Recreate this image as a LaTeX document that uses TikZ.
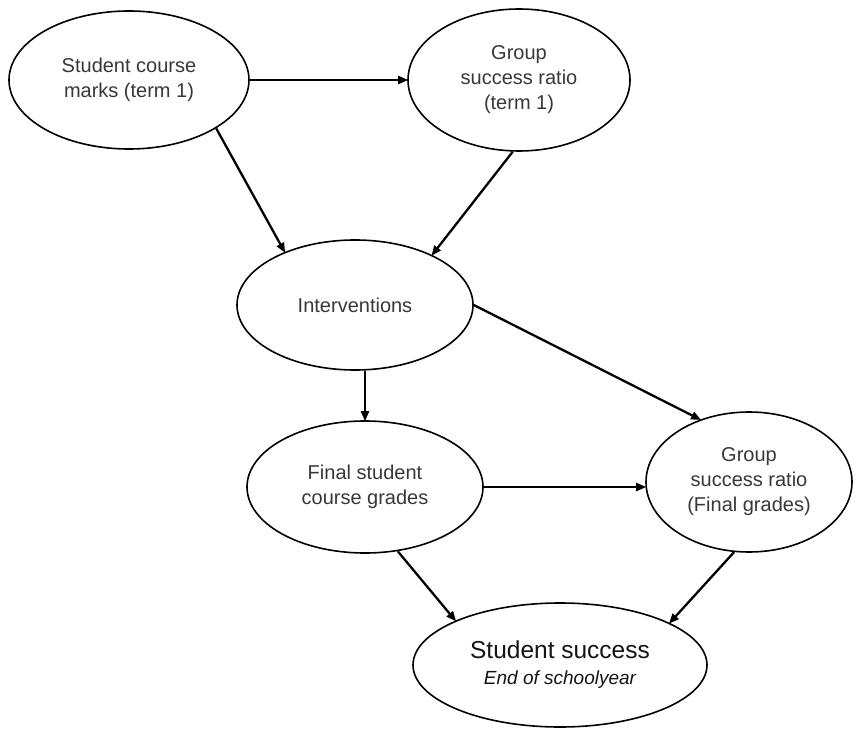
\documentclass[tikz,border=0pt]{standalone}
\usepackage{fontspec}
\setmainfont{Liberation Sans}
\usetikzlibrary{shapes.geometric,arrows.meta}
\begin{document}
\begin{tikzpicture}[x=1pt,y=1pt,
  bubble/.style={ellipse, draw=black, line width=1.6pt, fill=white,
    inner sep=0pt, align=center, text=black!78,
    font=\fontsize{20}{25}\selectfont},
  link/.style={line width=2.3pt, draw=black,
    -{Triangle[length=10pt,width=8pt]}, shorten >=-1pt}
]
\useasboundingbox (0,0) rectangle (856,729);

% variables
\node[bubble, minimum width=240pt, minimum height=138pt] (marks) at (129,649)
  {Student course\\marks (term 1)};
\node[bubble, minimum width=222pt, minimum height=142pt] (ratio1) at (519,649)
  {Group\\success ratio\\(term 1)};
\node[bubble, minimum width=236pt, minimum height=130pt] (interv) at (355,424)
  {Interventions};
\node[bubble, minimum width=236pt, minimum height=132pt] (final) at (365,242)
  {Final student\\course grades};
\node[bubble, minimum width=206pt, minimum height=140pt] (ratiof) at (749,247)
  {Group\\success ratio\\(Final grades)};
\node[bubble, minimum width=294pt, minimum height=124pt, text=black!92,
  font=\fontsize{19}{26}\selectfont] (success) at (560,64)
  {{\fontsize{24.5}{26}\selectfont Student success}\\{\itshape End of schoolyear}};

% influences
\draw[link] (marks.east) -- (ratio1.west);
\draw[link] (marks.-29.2) -- (interv.143.4);
\draw[link] (ratio1.-95) -- (interv.33.7);
\draw[link] (final.north |- interv.south) -- (final.north);
\draw[link] (interv.east) -- (ratiof.128.3);
\draw[link] (final.east) -- (ratiof.west |- final.east);
\draw[link] (final.-63.4) -- (success.157.7);
\draw[link] (ratiof.-102.9) -- (success.21.9);
\end{tikzpicture}
\end{document}
